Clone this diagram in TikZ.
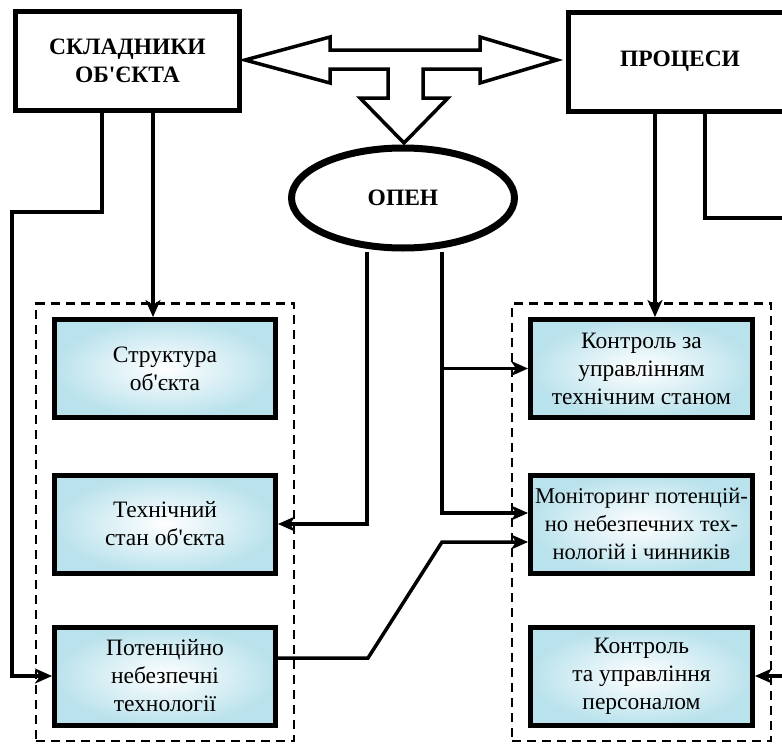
\documentclass[tikz,border=0pt]{standalone}
\usepackage{fontspec}
\setmainfont{Liberation Serif}
\usepackage{tikz}
\usetikzlibrary{arrows.meta, positioning, shapes.geometric, fit, calc}
\definecolor{boxblue}{RGB}{186,226,236}
\newcommand{\qs}{\textquotesingle}

\begin{document}
\begin{tikzpicture}[x=1pt, y=-1pt,
  head/.style={draw, line width=5pt, minimum width=224pt, minimum height=99pt, align=center, font=\fontsize{23.5}{28}\selectfont\bfseries},
  item/.style={draw, line width=5pt, minimum width=221pt, minimum height=98pt, inner xsep=2pt, align=center, inner color=white, outer color=boxblue, font=\fontsize{23.5}{28}\selectfont},
  group/.style={draw, line width=2.5pt, dash pattern=on 9pt off 6pt, inner xsep=16pt, inner ysep=13.5pt},
  conn/.style={line width=3.5pt, -{Stealth[length=17pt, width=15pt, inset=5pt]}}
]
  \clip (0,0) rectangle (782,744);

  % Top blocks
  \node[head] (skl) at (127.5, 61) {СКЛАДНИКИ\\ОБ\qs ЄКТА};
  \node[head] (proc) at (680, 61.5) {ПРОЦЕСИ};
  \node[draw, ellipse, line width=7pt, fill=white, inner sep=0pt, minimum width=223pt, minimum height=100pt, font=\fontsize{23.5}{28}\selectfont\bfseries] (opn) at (403, 198) {ОПЕН};

  % Double arrow
  \draw[line width=3.5pt, fill=white, line join=miter]
    (245,60) -- (330,37) -- (330,50) -- (480,50) -- (480,37) -- (557,60)
    -- (480,83) -- (480,69) -- (423,69) -- (423,98) -- (448,98) -- (404,143)
    -- (360,98) -- (388,98) -- (388,69) -- (330,69) -- (330,83) -- cycle;

  % Left column
  \node[item] (str) at (165, 368.5) {Структура\\об\qs єкта};
  \node[item] (tech) at (165, 524) {Технічний\\стан об\qs єкта};
  \node[item] (pot) at (165, 676) {Потенційно\\небезпечні\\технології};
  \node[group, fit=(str)(pot)] (grpL) {};

  % Right column
  \node[item, minimum width=222pt] (ctrl) at (641.5, 368.5) {Контроль за\\управлінням\\технічним станом};
  \node[item, minimum width=222pt, font=\fontsize{22.5}{28}\selectfont] (mon) at (641.5, 524) {Моніторинг потенцій-\\но небезпечних тех-\\нологій і чинників};
  \node[item, minimum width=222pt] (pers) at (641.5, 676) {Контроль\\та управління\\персоналом};
  \node[group, fit=(ctrl)(pers)] (grpR) {};

  % Connectors
  \coordinate (sklL) at ([xshift=-25.5pt]skl.south);
  \coordinate (sklR) at ([xshift=25.5pt]skl.south);
  \coordinate (procL) at ([xshift=-25pt]proc.south);
  \coordinate (procR) at ([xshift=25pt]proc.south);
  \coordinate (opnL) at ([xshift=-36pt]opn.south);
  \coordinate (opnR) at ([xshift=39pt]opn.south);
  \coordinate (lftA) at (12, 212);
  \coordinate (rgtA) at (792, 218);
  \coordinate (monA) at ([yshift=11pt]mon.west);
  \coordinate (monB) at ([yshift=-18pt]mon.west);

  \draw[conn] (sklL) |- (lftA) |- (pot.west);
  \draw[conn] (sklR) -- (sklR |- str.north);
  \draw[conn] (procL) -- (procL |- ctrl.north);
  \draw[conn] (procR) |- (rgtA) |- (pers.east);
  \draw[conn] (opnL) |- (tech.east);
  \draw[conn] (opnR) |- (monA);
  \draw[conn] (opnR |- ctrl.west) -- (ctrl.west);
  \draw[conn] ([yshift=18pt]pot.east) -- ++(90,0) -- (opnR |- monB) -- (monB);

\end{tikzpicture}
\end{document}
